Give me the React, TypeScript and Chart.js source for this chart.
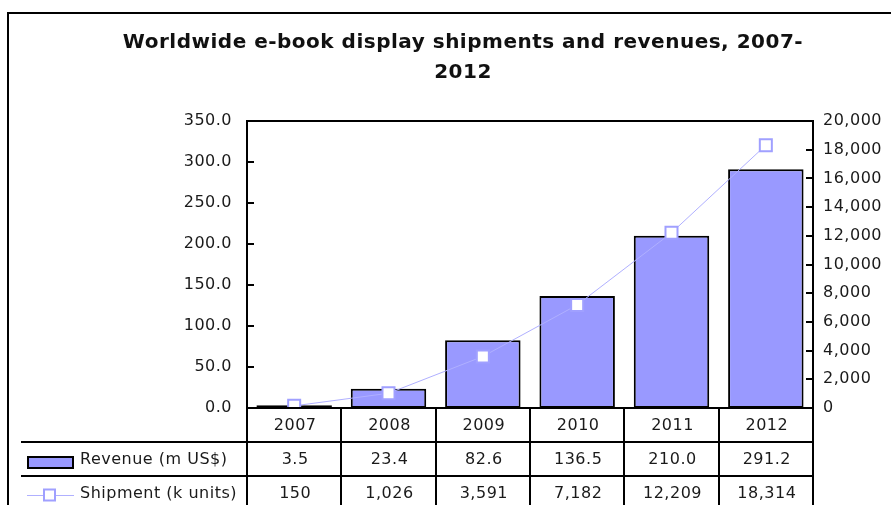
import React, { useEffect, useRef } from 'react';
import { Chart, registerables } from 'chart.js';

Chart.register(...registerables);

const TITLE_LINES = ['Worldwide e-book display shipments and revenues, 2007-', '2012'];
const YEARS = ['2007', '2008', '2009', '2010', '2011', '2012'];
const REVENUE = [3.5, 23.4, 82.6, 136.5, 210.0, 291.2];
const SHIPMENTS = [150, 1026, 3591, 7182, 12209, 18314];
const REVENUE_LABEL = 'Revenue (m US$)';
const SHIPMENT_LABEL = 'Shipment (k units)';
const LEFT_MAX = 350;
const LEFT_STEP = 50;
const RIGHT_MAX = 20000;
const RIGHT_STEP = 2000;

const BAR_FILL = '#9999FF';
const LINE_COLOR = '#B0B0FF';
const MARKER_COLOR = '#A0A0FF';
const TEXT = '#1a1a1a';
const FONT = '"DejaVu Sans", Verdana, sans-serif';

const fmtRevenue = (v: number) => v.toFixed(1);
const fmtShip = (v: number) => v.toLocaleString('en-US');

const framePlugin = {
  id: 'frameAndTable',
  beforeDraw(chart: any) {
    const ctx = chart.ctx;
    ctx.save();
    ctx.fillStyle = '#ffffff';
    ctx.fillRect(0, 0, chart.width, chart.height);
    ctx.restore();
    ctx.letterSpacing = '0.5px';
  },
  afterDraw(chart: any) {
    const { ctx, chartArea: a, scales } = chart;
    const xs = scales.x;
    const yl = scales.y;
    const yr = scales.y1;
    ctx.save();

    // outer box
    ctx.strokeStyle = '#000';
    ctx.lineWidth = 2;
    ctx.beginPath();
    ctx.moveTo(8, chart.height + 4);
    ctx.lineTo(8, 13);
    ctx.lineTo(chart.width + 4, 13);
    ctx.stroke();

    // title
    ctx.fillStyle = '#111';
    ctx.font = `bold 20px ${FONT}`;
    ctx.letterSpacing = '0.5px';
    ctx.textAlign = 'center';
    ctx.textBaseline = 'middle';
    TITLE_LINES.forEach((t, i) => ctx.fillText(t, 463, 43 + i * 30));

    // plot frame
    ctx.lineWidth = 2;
    ctx.strokeStyle = '#000';
    ctx.strokeRect(a.left, a.top, a.right - a.left, a.bottom - a.top);

    // tick marks (inward)
    yl.ticks.forEach((t: any) => {
      const py = Math.round(yl.getPixelForValue(t.value));
      ctx.beginPath();
      ctx.moveTo(a.left, py);
      ctx.lineTo(a.left + 7, py);
      ctx.stroke();
    });
    yr.ticks.forEach((t: any) => {
      const py = Math.round(yr.getPixelForValue(t.value));
      ctx.beginPath();
      ctx.moveTo(a.right - 7, py);
      ctx.lineTo(a.right, py);
      ctx.stroke();
    });

    // data table
    const n = YEARS.length;
    const band = (a.right - a.left) / n;
    const rowH = 34;
    const r0 = a.bottom;
    const r1 = r0 + rowH;
    const r2 = r1 + rowH;
    for (let i = 0; i <= n; i++) {
      const bx = Math.round(a.left + i * band);
      ctx.beginPath();
      ctx.moveTo(bx, r0);
      ctx.lineTo(bx, chart.height + 4);
      ctx.stroke();
    }
    [r1, r2].forEach((ry) => {
      ctx.beginPath();
      ctx.moveTo(21, ry);
      ctx.lineTo(a.right, ry);
      ctx.stroke();
    });

    ctx.fillStyle = TEXT;
    ctx.font = `16px ${FONT}`;
    ctx.textAlign = 'center';
    ctx.textBaseline = 'middle';
    YEARS.forEach((y, i) => {
      const cx = xs.getPixelForValue(i) + 1;
      ctx.fillText(y, cx, r0 + rowH / 2 + 1);
      ctx.fillText(fmtRevenue(REVENUE[i]), cx, r1 + rowH / 2 + 1);
      ctx.fillText(fmtShip(SHIPMENTS[i]), cx, r2 + rowH / 2 + 1);
    });

    // row legends
    ctx.textAlign = 'left';
    ctx.fillText(REVENUE_LABEL, 80, r1 + rowH / 2 + 1);
    ctx.fillText(SHIPMENT_LABEL, 80, r2 + rowH / 2 + 1);

    ctx.fillStyle = BAR_FILL;
    ctx.fillRect(28, r1 + 15, 45, 11);
    ctx.strokeStyle = '#000';
    ctx.lineWidth = 2;
    ctx.strokeRect(28, r1 + 15, 45, 11);

    const ly = r2 + 19.5;
    ctx.strokeStyle = LINE_COLOR;
    ctx.lineWidth = 1;
    ctx.beginPath();
    ctx.moveTo(27, ly);
    ctx.lineTo(74, ly);
    ctx.stroke();
    ctx.fillStyle = '#fff';
    ctx.fillRect(44, ly - 6, 11, 11);
    ctx.strokeStyle = MARKER_COLOR;
    ctx.lineWidth = 2;
    ctx.strokeRect(44, ly - 6, 11, 11);

    ctx.restore();
  },
};

export default function App() {
  const ref = useRef<HTMLCanvasElement | null>(null);
  useEffect(() => {
    if (!ref.current) return;
    const chart = new Chart(ref.current, {
      type: 'bar',
      data: {
        labels: YEARS,
        datasets: [
          {
            type: 'line',
            label: SHIPMENT_LABEL,
            data: SHIPMENTS,
            yAxisID: 'y1',
            borderColor: LINE_COLOR,
            borderWidth: 1,
            pointStyle: 'rect',
            pointRadius: 8.5,
            pointBackgroundColor: '#ffffff',
            pointBorderColor: MARKER_COLOR,
            pointBorderWidth: 2,
            tension: 0,
            order: 1,
          } as any,
          {
            type: 'bar',
            label: REVENUE_LABEL,
            data: REVENUE,
            yAxisID: 'y',
            backgroundColor: BAR_FILL,
            borderColor: '#000',
            borderWidth: 2,
            borderSkipped: false,
            categoryPercentage: 1,
            barPercentage: 0.8,
            order: 2,
          } as any,
        ],
      },
      plugins: [framePlugin],
      options: {
        responsive: false,
        animation: false,
        devicePixelRatio: 1,
        layout: { padding: { left: 0, right: 0, top: 121, bottom: 97 } },
        plugins: {
          legend: { display: false },
          tooltip: { enabled: false },
          title: { display: false },
        },
        scales: {
          x: {
            type: 'category',
            display: false,
            offset: true,
            grid: { display: false },
          },
          y: {
            position: 'left',
            min: 0,
            max: LEFT_MAX,
            grid: { display: false, drawTicks: false },
            border: { display: false },
            ticks: {
              stepSize: LEFT_STEP,
              padding: 15,
              color: TEXT,
              font: { family: FONT, size: 16 },
              callback: (v: any) => Number(v).toFixed(1),
            },
            afterFit: (s: any) => {
              s.width = 247;
            },
          },
          y1: {
            position: 'right',
            min: 0,
            max: RIGHT_MAX,
            grid: { display: false, drawTicks: false },
            border: { display: false },
            ticks: {
              stepSize: RIGHT_STEP,
              padding: 10,
              color: TEXT,
              font: { family: FONT, size: 16 },
              callback: (v: any) => Number(v).toLocaleString('en-US'),
            },
            afterFit: (s: any) => {
              s.width = 78;
            },
          },
        },
      } as any,
    });
    return () => chart.destroy();
  }, []);

  return (
    <div style={{ position: 'fixed', left: 0, top: 0, width: 891, height: 505, background: '#fff' }}>
      <canvas ref={ref} width={891} height={505} style={{ display: 'block', width: 891, height: 505 }} />
    </div>
  );
}
